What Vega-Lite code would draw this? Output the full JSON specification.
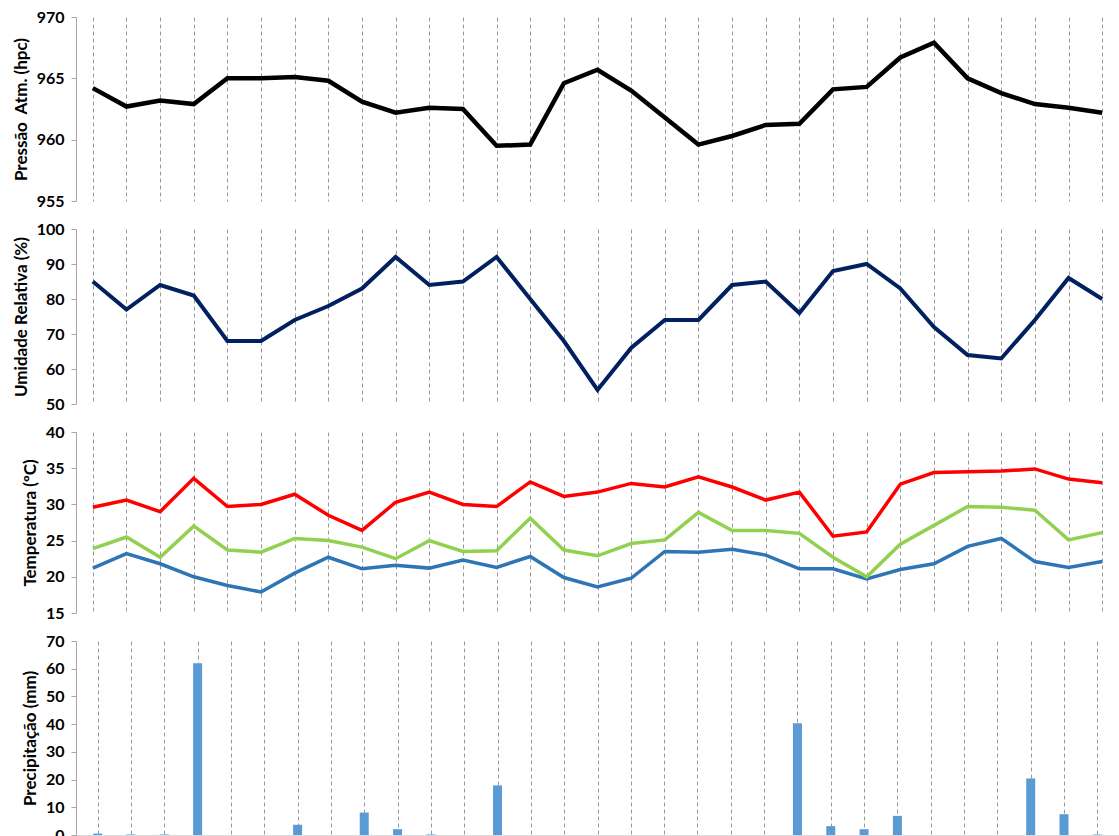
{
  "$schema": "https://vega.github.io/schema/vega-lite/v6.json",
  "background": "white",
  "padding": {"left": 12, "top": 9, "right": 0, "bottom": 0},
  "data": {
    "values": [
      {"dia": 1, "pressao": 964.2, "umidade": 85, "tmax": 29.6, "tmed": 23.9, "tmin": 21.2, "precip": 0.5},
      {"dia": 2, "pressao": 962.7, "umidade": 77, "tmax": 30.6, "tmed": 25.5, "tmin": 23.2, "precip": 0.2},
      {"dia": 3, "pressao": 963.2, "umidade": 84, "tmax": 29.0, "tmed": 22.7, "tmin": 21.8, "precip": 0.2},
      {"dia": 4, "pressao": 962.9, "umidade": 81, "tmax": 33.6, "tmed": 27.0, "tmin": 20.0, "precip": 62.0},
      {"dia": 5, "pressao": 965.0, "umidade": 68, "tmax": 29.7, "tmed": 23.7, "tmin": 18.8, "precip": 0},
      {"dia": 6, "pressao": 965.0, "umidade": 68, "tmax": 30.0, "tmed": 23.4, "tmin": 17.9, "precip": 0},
      {"dia": 7, "pressao": 965.1, "umidade": 74, "tmax": 31.4, "tmed": 25.3, "tmin": 20.5, "precip": 3.7},
      {"dia": 8, "pressao": 964.8, "umidade": 78, "tmax": 28.5, "tmed": 25.0, "tmin": 22.7, "precip": 0},
      {"dia": 9, "pressao": 963.1, "umidade": 83, "tmax": 26.4, "tmed": 24.1, "tmin": 21.1, "precip": 8.1},
      {"dia": 10, "pressao": 962.2, "umidade": 92, "tmax": 30.3, "tmed": 22.5, "tmin": 21.6, "precip": 2.1},
      {"dia": 11, "pressao": 962.6, "umidade": 84, "tmax": 31.7, "tmed": 25.0, "tmin": 21.2, "precip": 0.2},
      {"dia": 12, "pressao": 962.5, "umidade": 85, "tmax": 30.0, "tmed": 23.5, "tmin": 22.3, "precip": 0},
      {"dia": 13, "pressao": 959.5, "umidade": 92, "tmax": 29.7, "tmed": 23.6, "tmin": 21.3, "precip": 17.9},
      {"dia": 14, "pressao": 959.6, "umidade": 80, "tmax": 33.1, "tmed": 28.1, "tmin": 22.8, "precip": 0},
      {"dia": 15, "pressao": 964.6, "umidade": 68, "tmax": 31.1, "tmed": 23.7, "tmin": 19.9, "precip": 0},
      {"dia": 16, "pressao": 965.7, "umidade": 54, "tmax": 31.7, "tmed": 22.9, "tmin": 18.6, "precip": 0},
      {"dia": 17, "pressao": 964.0, "umidade": 66, "tmax": 32.9, "tmed": 24.6, "tmin": 19.8, "precip": 0},
      {"dia": 18, "pressao": 961.8, "umidade": 74, "tmax": 32.4, "tmed": 25.1, "tmin": 23.5, "precip": 0},
      {"dia": 19, "pressao": 959.6, "umidade": 74, "tmax": 33.8, "tmed": 28.9, "tmin": 23.4, "precip": 0},
      {"dia": 20, "pressao": 960.3, "umidade": 84, "tmax": 32.4, "tmed": 26.4, "tmin": 23.8, "precip": 0},
      {"dia": 21, "pressao": 961.2, "umidade": 85, "tmax": 30.6, "tmed": 26.4, "tmin": 23.0, "precip": 0},
      {"dia": 22, "pressao": 961.3, "umidade": 76, "tmax": 31.7, "tmed": 26.0, "tmin": 21.1, "precip": 40.3},
      {"dia": 23, "pressao": 964.1, "umidade": 88, "tmax": 25.6, "tmed": 22.7, "tmin": 21.1, "precip": 3.2},
      {"dia": 24, "pressao": 964.3, "umidade": 90, "tmax": 26.2, "tmed": 20.0, "tmin": 19.7, "precip": 2.1},
      {"dia": 25, "pressao": 966.7, "umidade": 83, "tmax": 32.8, "tmed": 24.5, "tmin": 21.0, "precip": 6.9},
      {"dia": 26, "pressao": 967.9, "umidade": 72, "tmax": 34.4, "tmed": 27.1, "tmin": 21.8, "precip": 0},
      {"dia": 27, "pressao": 965.0, "umidade": 64, "tmax": 34.5, "tmed": 29.7, "tmin": 24.2, "precip": 0},
      {"dia": 28, "pressao": 963.8, "umidade": 63, "tmax": 34.6, "tmed": 29.6, "tmin": 25.3, "precip": 0},
      {"dia": 29, "pressao": 962.9, "umidade": 74, "tmax": 34.9, "tmed": 29.2, "tmin": 22.1, "precip": 20.4},
      {"dia": 30, "pressao": 962.6, "umidade": 86, "tmax": 33.5, "tmed": 25.1, "tmin": 21.3, "precip": 7.5},
      {"dia": 31, "pressao": 962.2, "umidade": 80, "tmax": 33.0, "tmed": 26.1, "tmin": 22.1, "precip": 0.2}
    ]
  },
  "config": {
    "view": {"stroke": null},
    "font": "Lato",
    "axis": {
      "labelFont": "Lato",
      "labelFontWeight": "bold",
      "labelFontSize": 16,
      "labelColor": "#000000",
      "titleFont": "Lato",
      "titleFontSize": 17,
      "titleFontWeight": "bold",
      "titleColor": "#000000"
    },
    "axisY": {
      "domainColor": "#a6a6a6",
      "tickColor": "#a6a6a6",
      "tickSize": 5,
      "labelPadding": 7,
      "titlePadding": 6,
      "labelOverlap": false,
      "grid": false
    },
    "axisX": {
      "labels": false,
      "ticks": false,
      "domain": false,
      "grid": true,
      "gridDash": [4, 3],
      "gridColor": "#999999",
      "gridWidth": 1,
      "title": null,
      "values": [1.5, 2.5, 3.5, 4.5, 5.5, 6.5, 7.5, 8.5, 9.5, 10.5, 11.5, 12.5, 13.5, 14.5, 15.5, 16.5, 17.5, 18.5, 19.5, 20.5, 21.5, 22.5, 23.5, 24.5, 25.5, 26.5, 27.5, 28.5, 29.5, 30.5, 31.5]
    }
  },
  "bounds": "flush",
  "spacing": 28,
  "vconcat": [
    {
      "width": 1043,
      "height": 184,
      "mark": {"type": "line", "color": "#000000", "strokeWidth": 4.5},
      "encoding": {
        "x": {"field": "dia", "type": "quantitative", "scale": {"domain": [0.5, 31.5], "nice": false, "zero": false}},
        "y": {
          "field": "pressao",
          "type": "quantitative",
          "title": "Pressão\u00a0 Atm. (hpc)",
          "scale": {"domain": [955, 970], "nice": false, "zero": false},
          "axis": {"values": [955, 960, 965, 970]}
        }
      }
    },
    {
      "width": 1043,
      "height": 175,
      "mark": {"type": "line", "color": "#002060", "strokeWidth": 4},
      "encoding": {
        "x": {"field": "dia", "type": "quantitative", "scale": {"domain": [0.5, 31.5], "nice": false, "zero": false}},
        "y": {
          "field": "umidade",
          "type": "quantitative",
          "title": "Umidade Relativa (%)",
          "scale": {"domain": [50, 100], "nice": false, "zero": false},
          "axis": {"values": [50, 60, 70, 80, 90, 100]}
        }
      }
    },
    {
      "width": 1043,
      "height": 181,
      "transform": [
        {"fold": ["tmin", "tmed", "tmax"], "as": ["serie", "temperatura"]}
      ],
      "mark": {"type": "line", "strokeWidth": 3.5},
      "encoding": {
        "x": {"field": "dia", "type": "quantitative", "scale": {"domain": [0.5, 31.5], "nice": false, "zero": false}},
        "y": {
          "field": "temperatura",
          "type": "quantitative",
          "title": "Temperatura (ºC)",
          "scale": {"domain": [15, 40], "nice": false, "zero": false},
          "axis": {"values": [15, 20, 25, 30, 35, 40]}
        },
        "color": {
          "field": "serie",
          "type": "nominal",
          "scale": {"domain": ["tmin", "tmed", "tmax"], "range": ["#2e75b6", "#92d050", "#ff0000"]},
          "legend": null
        }
      }
    },
    {
      "width": 1043,
      "height": 194,
      "mark": {"type": "bar", "color": "#5b9bd5", "size": 9},
      "encoding": {
        "x": {
          "field": "dia",
          "type": "quantitative",
          "scale": {"domain": [0.5, 31.5], "nice": false, "zero": false},
          "axis": {"domain": true, "domainColor": "#d9d9d9"}
        },
        "y": {
          "field": "precip",
          "type": "quantitative",
          "title": "Precipitação (mm)",
          "scale": {"domain": [0, 70], "nice": false},
          "axis": {"values": [0, 10, 20, 30, 40, 50, 60, 70]}
        }
      }
    }
  ]
}
